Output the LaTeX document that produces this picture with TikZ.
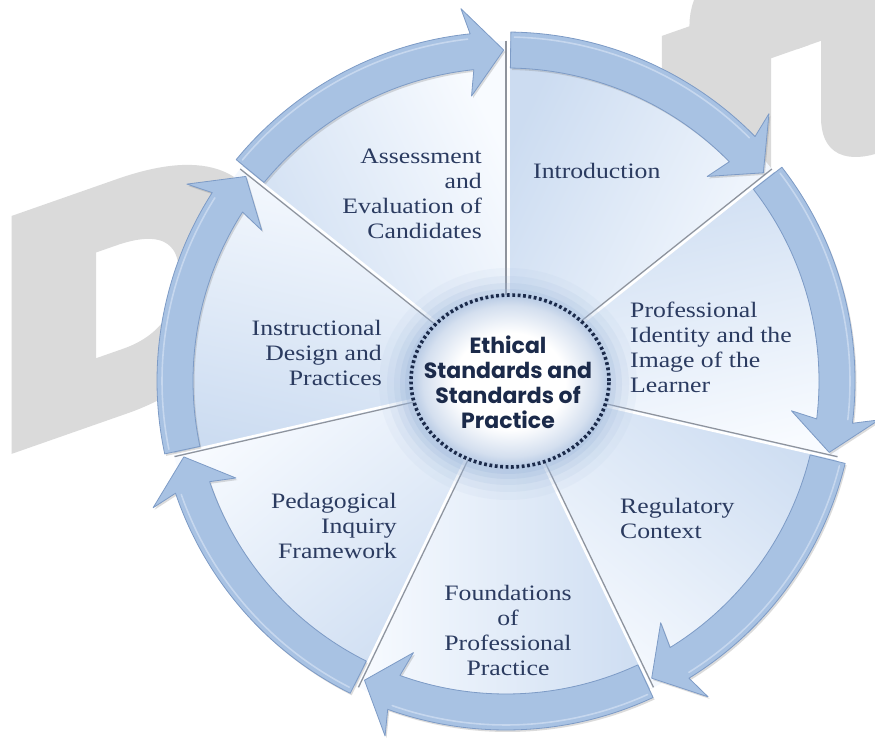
\documentclass[tikz,border=0pt]{standalone}
\usepackage{fontspec}
\setmainfont{Liberation Serif}[FakeStretch=1.17]
\newfontfamily\ctrfont{Poppins}
\newfontfamily\wmfont{Liberation Sans}[FakeBold=11,FakeStretch=1.2]
\usetikzlibrary{shadows,shapes.geometric}
\definecolor{ringfill}{HTML}{A8C2E3}
\definecolor{ringedge}{HTML}{7D9BC6}
\definecolor{ringlight}{HTML}{C6D7EE}
\definecolor{wedgeblue}{HTML}{CCDCF1}
\definecolor{wedgewhite}{HTML}{F8FBFF}
\definecolor{txt}{HTML}{2B3B60}
\definecolor{ctrtxt}{HTML}{1B2A4A}
\definecolor{ctrblue}{HTML}{9FB8DB}
\definecolor{wmgray}{HTML}{DADADA}
\definecolor{divgray}{HTML}{8E939C}
\pgfdeclareradialshading{ctrshade}{\pgfpoint{0bp}{0bp}}{color(0bp)=(white); color(14bp)=(white); color(22bp)=(ctrblue!45); color(25bp)=(ctrblue!75); color(50bp)=(ctrblue!75)}
\newcommand{\ringarrow}[2]{%
  \path[arrowbody] (#1:349pt) arc[start angle=#1, end angle=#2+5.5, radius=349pt]
    -- (#2+6.5:375pt) -- (#2:331pt) -- (#2+6.5:287pt) -- (#2+5.5:313pt)
    arc[start angle=#2+5.5, end angle=#1, radius=313pt] -- cycle;
  \draw[ringlight, line width=1.6pt, line cap=round] (#1-0.6:344pt) arc[start angle=#1-0.6, end angle=#2+6, radius=344pt];}
\newcommand{\lstrut}{\rule{0pt}{17pt}}
\begin{document}
\begin{tikzpicture}[x=1pt,y=1pt,
  arrowbody/.style={fill=ringfill, draw=ringedge, line width=0.8pt, line join=round,
    drop shadow={opacity=0.28, shadow xshift=1.5pt, shadow yshift=-2pt}},
  lbl/.style={font=\fontsize{22}{25}\selectfont, text=txt, inner sep=0pt},
  wm/.style={font=\wmfont\bfseries\fontsize{298}{298}\selectfont, text=wmgray, inner sep=0pt, transform shape},
  ctrtext/.style={font=\ctrfont\bfseries\fontsize{22}{25}\selectfont, text=ctrtxt, inner sep=0pt, align=center}]
\useasboundingbox (0,0) rectangle (875,739);
\fill[white] (0,0) rectangle (875,739);
% watermark
\begin{scope}[yslant=0.35]
  \node[wm, anchor=base west] (draft) at (4,297.5) {D\kern26pt r\kern26pt a\kern20pt f\kern18pt t};
\end{scope}
\begin{scope}[shift={(506,358)}]
  % wedges
  \foreach \k in {0,...,6}{
    \pgfmathsetmacro\wa{90-\k*360/7}
    \pgfmathsetmacro\wb{\wa-360/7}
    \pgfmathsetmacro\wm{\wa-180/7}
    \path[top color=wedgeblue, bottom color=wedgewhite, shading angle=\wm]
      (0,0) -- (\wa:340pt) arc[start angle=\wa, end angle=\wb, radius=340pt] -- cycle;
  }
  % dividers
  \foreach \k in {0,...,6}{
    \pgfmathsetmacro\wa{90-\k*360/7}
    \begin{scope}[rotate=\wa]
      \draw[white, line width=2.6pt] (80,-2.3) -- (340,-2.3);
      \draw[divgray, line width=1.2pt] (80,0) -- (340,0);
    \end{scope}
  }
  % glow around centre
  \foreach \g/\o in {30/0.08,22/0.12,15/0.16,9/0.22,4/0.28}{
    \fill[ctrblue, opacity=\o] (2,-3) ellipse[x radius=99+\g, y radius=86+\g];
  }
  \node[ellipse, minimum width=198pt, minimum height=172pt, inner sep=0pt,
        shade, shading=ctrshade, draw=ctrtxt, line width=3.6pt,
        dash pattern=on 2.8pt off 2.6pt] (centre) at (4,0) {};
  % ring arrows
  \foreach \k in {0,...,6}{
    \pgfmathsetmacro\ta{90-\k*360/7-0.8}
    \pgfmathsetmacro\tb{90-(\k+1)*360/7+0.4}
    \ringarrow{\ta}{\tb}
  }
\end{scope}
% labels
\node[lbl, align=right, anchor=north east] (assess) at (482,593) {\lstrut Assessment\\and\\Evaluation of\\Candidates};
\node[lbl, align=left, anchor=north west] (intro) at (533,578) {\lstrut Introduction};
\node[lbl, align=left, anchor=north west] (profid) at (630,439) {\lstrut Professional\\Identity and the\\Image of the\\Learner};
\node[lbl, align=left, anchor=north west] (reg) at (620,243) {\lstrut Regulatory\\Context};
\node[lbl, align=center, anchor=north] (found) at (508,156) {\lstrut Foundations\\of\\Professional\\Practice};
\node[lbl, align=right, anchor=north east] (pedag) at (397,248) {\lstrut Pedagogical\\Inquiry\\Framework};
\node[lbl, align=right, anchor=north east] (instr) at (382,421) {\lstrut Instructional\\Design and\\Practices};
\node[ctrtext, anchor=north] (ethics) at (508,405) {\rule{0pt}{19pt}Ethical\\Standards and\\Standards of\\Practice};
\end{tikzpicture}
\end{document}
